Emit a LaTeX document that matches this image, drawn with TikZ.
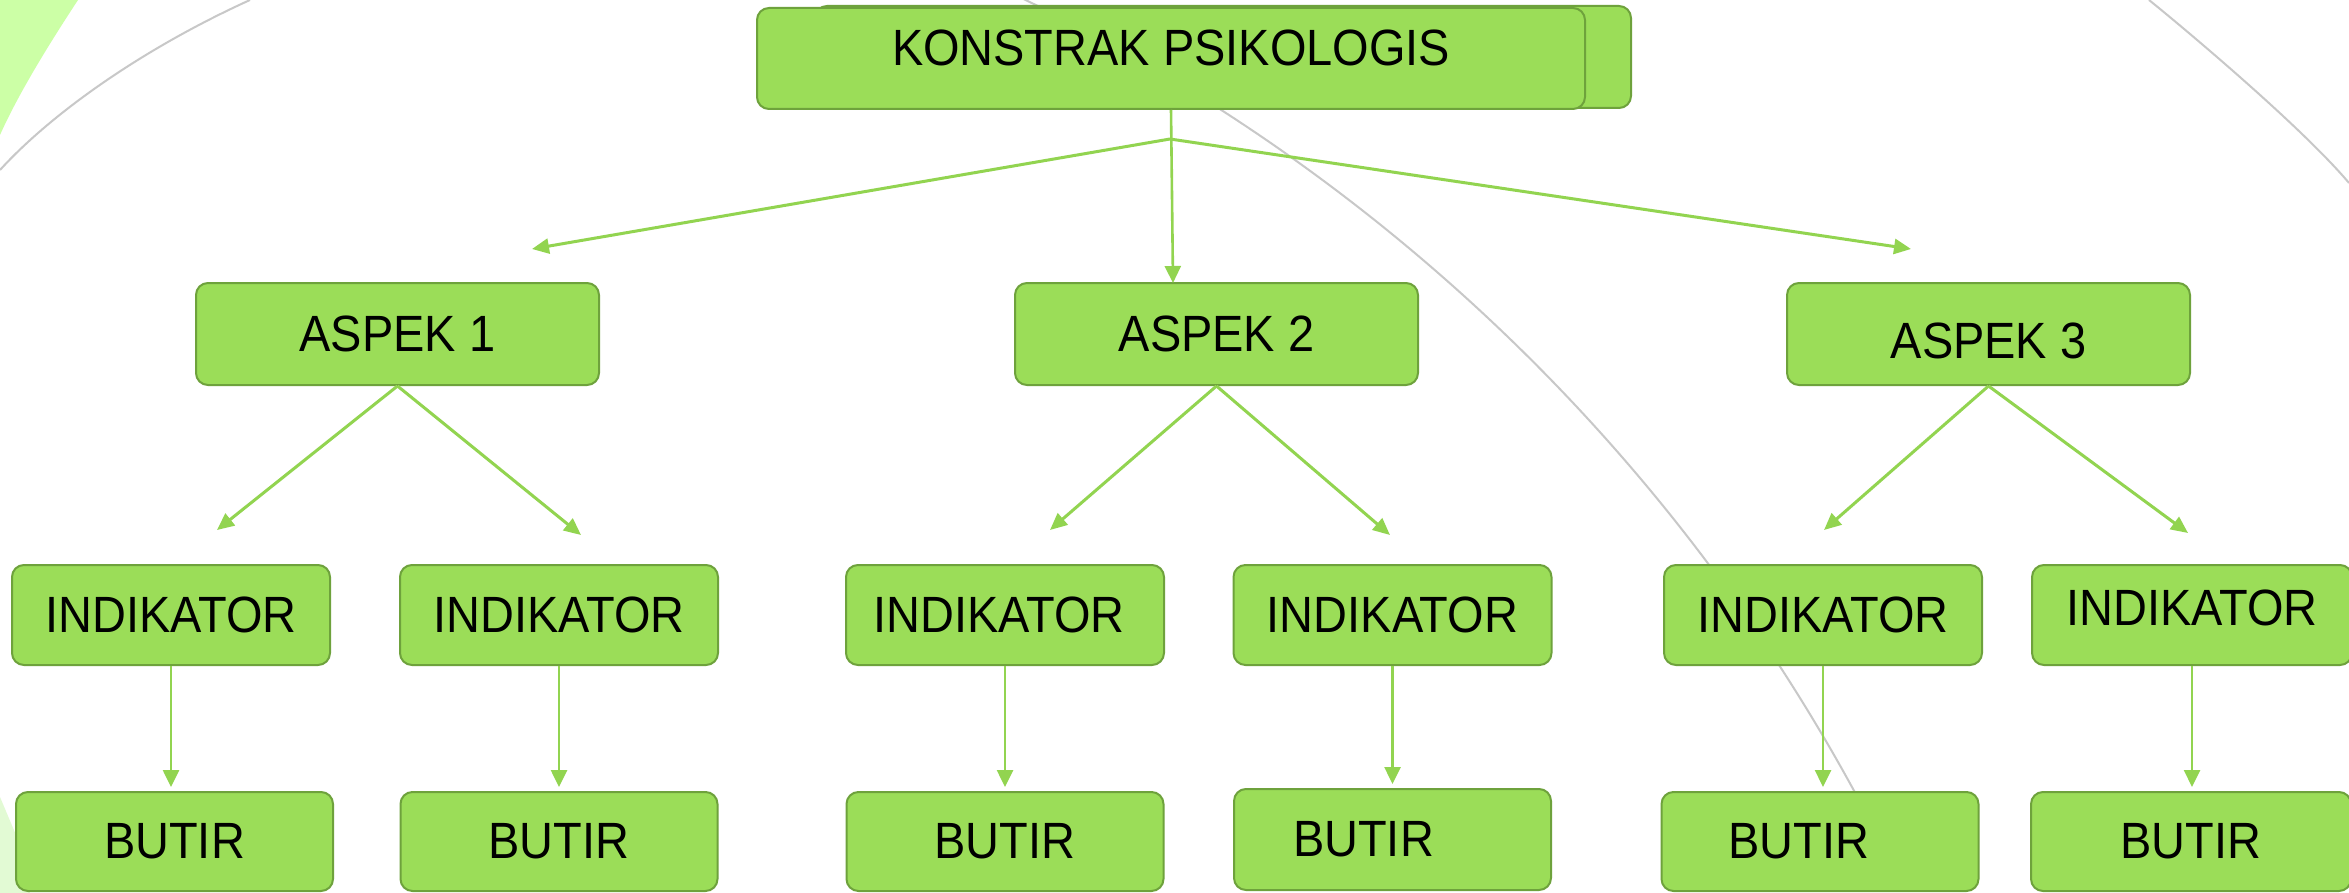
\documentclass[tikz,border=0pt]{standalone}
\usepackage{graphicx}
\usepackage{fontspec}
\setmainfont{Liberation Sans}
\usetikzlibrary{arrows.meta}
\definecolor{boxfill}{RGB}{155,221,88}
\definecolor{boxline}{RGB}{110,162,60}
\definecolor{arrowgreen}{RGB}{146,212,80}
\definecolor{arcgray}{RGB}{200,200,200}
\definecolor{lightg}{RGB}{204,255,166}
\definecolor{paleg}{RGB}{226,250,212}
\newcommand{\narrowtxt}[1]{\scalebox{0.92}[1]{#1}}
\begin{document}
\begin{tikzpicture}[x=1pt,y=-1pt,
  gbox/.style={draw=boxline, fill=boxfill, line width=2pt, rounded corners=12pt,
    inner sep=0pt, font=\fontsize{51}{58}\selectfont, text=black},
  abox/.style={gbox, minimum width=403pt, minimum height=102pt},
  ibox/.style={gbox, minimum width=318pt, minimum height=100pt},
  bbox/.style={gbox, minimum width=317pt, minimum height=99pt},
  arr/.style={draw=arrowgreen, line width=3pt, -{Triangle[length=17pt,width=15pt]}},
  varr/.style={draw=arrowgreen, line width=2.6pt, shorten >=4pt, -{Triangle[length=17pt,width=16pt]}},
  arcline/.style={draw=arcgray, line width=2pt}]
\useasboundingbox (0,0) rectangle (2349,893);
\fill[white] (0,0) rectangle (2349,893);
% background decorations
\fill[lightg] (0,0) -- (78,0) .. controls (55,35) and (20,90) .. (0,135) -- cycle;
\fill[paleg] (0,797) -- (16,835) -- (30,893) -- (0,893) -- cycle;
\draw[arcline] (0,170) .. controls (50,115) and (140,50) .. (250,0);
\begin{scope}
  \clip (0,0) rectangle (1900,893);
  \draw[arcline] (209,1685) circle[radius=1872];
\end{scope}
\draw[arcline] (2149,0) .. controls (2180,25) and (2300,125) .. (2349,183);
% top
\node[gbox, minimum width=816pt, minimum height=102pt] (kb) at (1223,57) {};
\node[gbox, minimum width=828pt, minimum height=101pt, text depth=22pt] (k) at (1171,58.5) {\narrowtxt{KONSTRAK PSIKOLOGIS}};
% aspects
\node[abox] (a1) at (397.5,334) {\narrowtxt{ASPEK 1}};
\node[abox] (a2) at (1216.5,334) {\narrowtxt{ASPEK 2}};
\node[abox, text height=49pt] (a3) at (1988.5,334) {\narrowtxt{ASPEK 3}};
% indicators
\node[ibox] (i1) at (171,615) {\narrowtxt{INDIKATOR}};
\node[ibox] (i2) at (559,615) {\narrowtxt{INDIKATOR}};
\node[ibox] (i3) at (1005,615) {\hspace*{-12pt}\narrowtxt{INDIKATOR}};
\node[ibox] (i4) at (1392.5,615) {\narrowtxt{INDIKATOR}};
\node[ibox] (i5) at (1823,615) {\narrowtxt{INDIKATOR}};
\node[ibox, minimum width=320pt, text depth=14pt] (i6) at (2192,615) {\narrowtxt{INDIKATOR}};
% items
\node[bbox] (b1) at (174.5,841.5) {\narrowtxt{BUTIR}};
\node[bbox] (b2) at (559,841.5) {\narrowtxt{BUTIR}};
\node[bbox] (b3) at (1005,841.5) {\narrowtxt{BUTIR}};
\node[bbox, minimum height=101pt] (b4) at (1392.5,839.5) {\hspace*{-58pt}\narrowtxt{BUTIR}};
\node[bbox] (b5) at (1820,841.5) {\hspace*{-42pt}\narrowtxt{BUTIR}};
\node[bbox, minimum width=320pt] (b6) at (2191,841.5) {\narrowtxt{BUTIR}};
% connector points
\coordinate (j) at (1170,139);
\coordinate (tl) at (532,249);
\coordinate (tr) at (1911,249);
\coordinate (t2) at (1173,283);
\coordinate (t11) at (217,530);
\coordinate (t12) at (581,535);
\coordinate (t21) at (1050,530);
\coordinate (t22) at (1390,535);
\coordinate (t31) at (1824,530);
\coordinate (t32) at (2188,533);
% connectors
\draw[varr, shorten >=0pt] (k.south) -- (t2);
\draw[arr] (j) -- (tl);
\draw[arr] (j) -- (tr);
\draw[arr] (a1.south) -- (t11);
\draw[arr] (a1.south) -- (t12);
\draw[arr] (a2.south) -- (t21);
\draw[arr] (a2.south) -- (t22);
\draw[arr] (a3.south) -- (t31);
\draw[arr] (a3.south) -- (t32);
\draw[varr] (i1.south) -- (i1.south |- b1.north);
\draw[varr] (i2.south) -- (i2.south |- b2.north);
\draw[varr] (i3.south) -- (i3.south |- b3.north);
\draw[varr] (i4.south) -- (i4.south |- b4.north);
\draw[varr] (i5.south) -- (i5.south |- b5.north);
\draw[varr] (i6.south) -- (i6.south |- b6.north);
\end{tikzpicture}
\end{document}
